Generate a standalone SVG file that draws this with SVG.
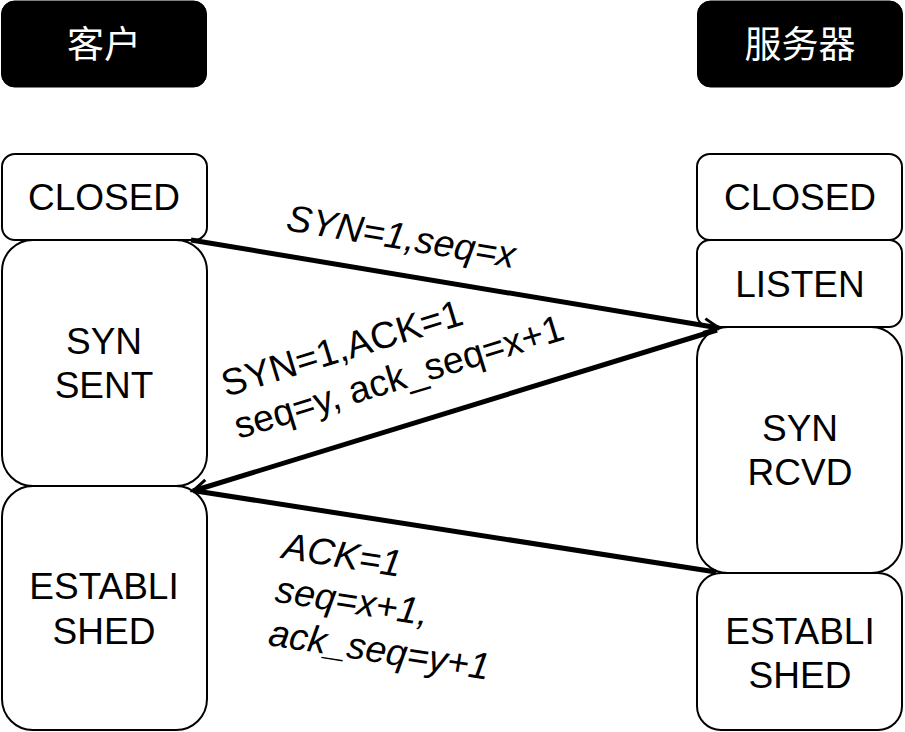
<svg xmlns="http://www.w3.org/2000/svg" width="905" height="732" viewBox="0 0 905 732">
<style>
.box{fill:#fff;stroke:#000;stroke-width:2}
.hdr{fill:#000;stroke:#000;stroke-width:1}
.t{font-family:"Liberation Sans",Arial,sans-serif;font-size:37px;fill:#000;text-anchor:middle}
.h{font-family:"Liberation Sans","Noto Sans CJK SC",sans-serif;font-size:37px;fill:#fff;text-anchor:middle}
.lbl{font-family:"Liberation Sans",Arial,sans-serif;font-size:37.5px;fill:#000}
.it{font-style:italic}
.ln{stroke:#000;stroke-width:5;fill:none}
</style>
<defs>
<marker id="arr" markerUnits="userSpaceOnUse" viewBox="-20 -12 24 24" refX="0" refY="0" markerWidth="24" markerHeight="24" orient="auto">
<path d="M-15,-7 L0,0 L-15,7" fill="none" stroke="#000" stroke-width="3"/>
</marker>
</defs>
<g id="hdr-client"><rect class="hdr" x="1.5" y="1" width="205" height="86" rx="13"/><text class="h" x="104" y="58">客户</text></g>
<g id="hdr-server"><rect class="hdr" x="697.5" y="1" width="205" height="86" rx="13"/><text class="h" x="800" y="58">服务器</text></g>
<g id="c-closed"><rect class="box" x="2" y="154" width="205" height="86" rx="13"/><text class="t" x="104" y="210">CLOSED</text></g>
<g id="c-synsent"><rect class="box" x="2" y="240" width="205" height="246" rx="31"/><text class="t" x="104" y="354">SYN</text><text class="t" x="104" y="398">SENT</text></g>
<g id="c-est"><rect class="box" x="2" y="486" width="205" height="244" rx="31"/><text class="t" x="104" y="599">ESTABLI</text><text class="t" x="104" y="644">SHED</text></g>
<g id="s-closed"><rect class="box" x="697" y="154" width="205" height="86" rx="13"/><text class="t" x="800" y="210">CLOSED</text></g>
<g id="s-listen"><rect class="box" x="697" y="240" width="205" height="87" rx="13"/><text class="t" x="800" y="297">LISTEN</text></g>
<g id="s-synrcvd"><rect class="box" x="697" y="327" width="205" height="246" rx="31"/><text class="t" x="800" y="441">SYN</text><text class="t" x="800" y="485">RCVD</text></g>
<g id="s-est"><rect class="box" x="697" y="573" width="205" height="157" rx="24"/><text class="t" x="800" y="644">ESTABLI</text><text class="t" x="800" y="688">SHED</text></g>
<g id="connectors">
<line class="ln" x1="191" y1="240" x2="719" y2="328" marker-end="url(#arr)"/>
<line class="ln" x1="717" y1="330" x2="193" y2="491" marker-end="url(#arr)"/>
<line class="ln" x1="716" y1="572" x2="196" y2="491"/>
</g>
<g id="labels">
<text class="lbl it" transform="translate(285,230) rotate(9.5)">SYN=1,seq=x</text>
<g transform="translate(226,397) rotate(-17)"><text class="lbl" x="0" y="0">SYN=1,ACK=1</text><text class="lbl" x="0" y="44">seq=y, ack_seq=x+1</text></g>
<g transform="translate(281,558) rotate(9)"><text class="lbl it" x="0" y="0">ACK=1</text><text class="lbl it" x="0" y="44">seq=x+1,</text><text class="lbl it" x="0" y="88">ack_seq=y+1</text></g>
</g>
</svg>
